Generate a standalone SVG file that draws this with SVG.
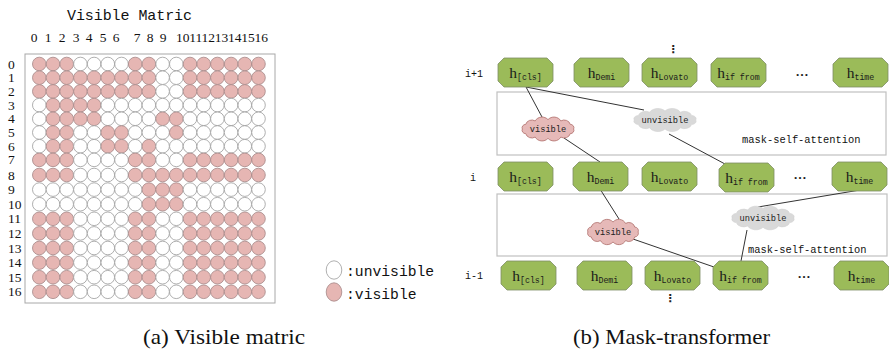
<svg xmlns="http://www.w3.org/2000/svg" xmlns:xlink="http://www.w3.org/1999/xlink" width="889" height="353" viewBox="0 0 889 353">
<style>
.v{fill:#E6B6B3;stroke:#A48686;stroke-width:0.8}
.u{fill:#fff;stroke:#9A9A9A;stroke-width:0.8}
.lab{font-family:"Liberation Serif",serif;font-size:13.5px;fill:#111}
.mono{font-family:"Liberation Mono",monospace;fill:#111}
.h{font-family:"Liberation Serif",serif;font-size:15.5px}
.s{font-family:"Liberation Mono",monospace;font-size:8.3px}
.nd{fill:#9BBB59;stroke:#7E8E66;stroke-width:0.8}
.nt{fill:#1a1a1a;text-anchor:middle}
.box{fill:none;stroke:#C0C0C0;stroke-width:1.2}
.cv{fill:#E6B9B8;stroke:#B0706C;stroke-width:0.9}
.cu{fill:#D9D9D9;stroke:#D0D0D0;stroke-width:0.6}
.ct{font-family:"Liberation Mono",monospace;font-size:8.7px;fill:#222;text-anchor:middle}
.msa{font-family:"Liberation Mono",monospace;font-size:10.4px;fill:#111}
.con line{stroke:#333;stroke-width:1}
.cap{font-family:"Liberation Serif",serif;font-size:21px;fill:#111}
.dots{font-family:"DejaVu Sans",sans-serif;font-size:11px;fill:#222;text-anchor:middle;font-weight:bold}
</style>
<defs>
<path id="nd" d="M6,0 H49 L55,6 V23 L49,29 H6 L0,23 V6 Z"/>
<path id="cloud" d="M27,0 A4,4 0 0 1 23.4,5.5 A6.5,6.5 0 0 1 13.5,9.5 A8,8 0 0 1 0,11 A8,8 0 0 1 -13.5,9.5 A6.5,6.5 0 0 1 -23.4,5.5 A4,4 0 0 1 -27,0 A4,4 0 0 1 -23.4,-5.5 A6.5,6.5 0 0 1 -13.5,-9.5 A8,8 0 0 1 0,-11 A8,8 0 0 1 13.5,-9.5 A6.5,6.5 0 0 1 23.4,-5.5 A4,4 0 0 1 27,0 Z"/>
</defs>
<rect width="889" height="353" fill="#fff"/>

<!-- Left: visible matrix -->
<g id="matrix">
<text class="mono" x="67" y="20" font-size="15" textLength="125">Visible Matric</text>
<g class="lab" text-anchor="middle">
<text x="34" y="42">0</text><text x="48" y="42">1</text><text x="62" y="42">2</text><text x="76" y="42">3</text><text x="89" y="42">4</text><text x="103" y="42">5</text><text x="116" y="42">6</text><text x="137" y="42">7</text><text x="150" y="42">8</text><text x="163" y="42">9</text>
</g>
<text class="lab" x="176" y="42" textLength="92">10111213141516</text>
<g class="lab">
<text x="8" y="68.5">0</text><text x="8" y="82.2">1</text><text x="8" y="95.9">2</text><text x="8" y="109.6">3</text><text x="8" y="123.3">4</text><text x="8" y="137">5</text><text x="8" y="150.7">6</text><text x="8" y="164.4">7</text><text x="8" y="179.5">8</text><text x="8" y="194.1">9</text><text x="8" y="208.7">10</text><text x="8" y="223.3">11</text><text x="8" y="237.9">12</text><text x="8" y="252.5">13</text><text x="8" y="267.1">14</text><text x="8" y="281.7">15</text><text x="8" y="296.3">16</text>
</g>
<rect x="25" y="54" width="250" height="249" fill="none" stroke="#A8A8A8" stroke-width="1"/>
<g id="row0" transform="translate(0,64)"><circle r="6.8" cx="39.3" class="v"/><circle r="6.8" cx="53" class="v"/><circle r="6.8" cx="66.7" class="v"/><circle r="6.8" cx="80.4" class="u"/><circle r="6.8" cx="94.1" class="u"/><circle r="6.8" cx="107.8" class="u"/><circle r="6.8" cx="121.5" class="u"/><circle r="6.8" cx="135.2" class="v"/><circle r="6.8" cx="148.9" class="v"/><circle r="6.8" cx="162.6" class="u"/><circle r="6.8" cx="176.3" class="u"/><circle r="6.8" cx="190" class="v"/><circle r="6.8" cx="203.7" class="v"/><circle r="6.8" cx="217.4" class="v"/><circle r="6.8" cx="231.1" class="v"/><circle r="6.8" cx="244.8" class="v"/><circle r="6.8" cx="258.5" class="v"/></g>
<g id="row1" transform="translate(0,77.7)"><circle r="6.8" cx="39.3" class="v"/><circle r="6.8" cx="53" class="v"/><circle r="6.8" cx="66.7" class="v"/><circle r="6.8" cx="80.4" class="v"/><circle r="6.8" cx="94.1" class="v"/><circle r="6.8" cx="107.8" class="v"/><circle r="6.8" cx="121.5" class="v"/><circle r="6.8" cx="135.2" class="v"/><circle r="6.8" cx="148.9" class="v"/><circle r="6.8" cx="162.6" class="u"/><circle r="6.8" cx="176.3" class="u"/><circle r="6.8" cx="190" class="v"/><circle r="6.8" cx="203.7" class="v"/><circle r="6.8" cx="217.4" class="v"/><circle r="6.8" cx="231.1" class="v"/><circle r="6.8" cx="244.8" class="v"/><circle r="6.8" cx="258.5" class="v"/></g>
<g id="row2" transform="translate(0,91.4)"><circle r="6.8" cx="39.3" class="v"/><circle r="6.8" cx="53" class="v"/><circle r="6.8" cx="66.7" class="v"/><circle r="6.8" cx="80.4" class="v"/><circle r="6.8" cx="94.1" class="v"/><circle r="6.8" cx="107.8" class="v"/><circle r="6.8" cx="121.5" class="v"/><circle r="6.8" cx="135.2" class="v"/><circle r="6.8" cx="148.9" class="v"/><circle r="6.8" cx="162.6" class="u"/><circle r="6.8" cx="176.3" class="u"/><circle r="6.8" cx="190" class="v"/><circle r="6.8" cx="203.7" class="v"/><circle r="6.8" cx="217.4" class="v"/><circle r="6.8" cx="231.1" class="v"/><circle r="6.8" cx="244.8" class="v"/><circle r="6.8" cx="258.5" class="v"/></g>
<g id="row3" transform="translate(0,105.1)"><circle r="6.8" cx="39.3" class="u"/><circle r="6.8" cx="53" class="v"/><circle r="6.8" cx="66.7" class="v"/><circle r="6.8" cx="80.4" class="v"/><circle r="6.8" cx="94.1" class="v"/><circle r="6.8" cx="107.8" class="u"/><circle r="6.8" cx="121.5" class="u"/><circle r="6.8" cx="135.2" class="u"/><circle r="6.8" cx="148.9" class="u"/><circle r="6.8" cx="162.6" class="u"/><circle r="6.8" cx="176.3" class="u"/><circle r="6.8" cx="190" class="u"/><circle r="6.8" cx="203.7" class="u"/><circle r="6.8" cx="217.4" class="u"/><circle r="6.8" cx="231.1" class="u"/><circle r="6.8" cx="244.8" class="u"/><circle r="6.8" cx="258.5" class="u"/></g>
<g id="row4" transform="translate(0,118.8)"><circle r="6.8" cx="39.3" class="u"/><circle r="6.8" cx="53" class="v"/><circle r="6.8" cx="66.7" class="v"/><circle r="6.8" cx="80.4" class="v"/><circle r="6.8" cx="94.1" class="v"/><circle r="6.8" cx="107.8" class="u"/><circle r="6.8" cx="121.5" class="u"/><circle r="6.8" cx="135.2" class="u"/><circle r="6.8" cx="148.9" class="u"/><circle r="6.8" cx="162.6" class="v"/><circle r="6.8" cx="176.3" class="v"/><circle r="6.8" cx="190" class="u"/><circle r="6.8" cx="203.7" class="u"/><circle r="6.8" cx="217.4" class="u"/><circle r="6.8" cx="231.1" class="u"/><circle r="6.8" cx="244.8" class="u"/><circle r="6.8" cx="258.5" class="u"/></g>
<g id="row5" transform="translate(0,132.5)"><circle r="6.8" cx="39.3" class="u"/><circle r="6.8" cx="53" class="v"/><circle r="6.8" cx="66.7" class="v"/><circle r="6.8" cx="80.4" class="u"/><circle r="6.8" cx="94.1" class="u"/><circle r="6.8" cx="107.8" class="v"/><circle r="6.8" cx="121.5" class="v"/><circle r="6.8" cx="135.2" class="u"/><circle r="6.8" cx="148.9" class="u"/><circle r="6.8" cx="162.6" class="u"/><circle r="6.8" cx="176.3" class="v"/><circle r="6.8" cx="190" class="u"/><circle r="6.8" cx="203.7" class="u"/><circle r="6.8" cx="217.4" class="u"/><circle r="6.8" cx="231.1" class="u"/><circle r="6.8" cx="244.8" class="u"/><circle r="6.8" cx="258.5" class="u"/></g>
<g id="row6" transform="translate(0,146.2)"><circle r="6.8" cx="39.3" class="u"/><circle r="6.8" cx="53" class="v"/><circle r="6.8" cx="66.7" class="v"/><circle r="6.8" cx="80.4" class="u"/><circle r="6.8" cx="94.1" class="u"/><circle r="6.8" cx="107.8" class="v"/><circle r="6.8" cx="121.5" class="v"/><circle r="6.8" cx="135.2" class="u"/><circle r="6.8" cx="148.9" class="v"/><circle r="6.8" cx="162.6" class="u"/><circle r="6.8" cx="176.3" class="u"/><circle r="6.8" cx="190" class="u"/><circle r="6.8" cx="203.7" class="u"/><circle r="6.8" cx="217.4" class="u"/><circle r="6.8" cx="231.1" class="u"/><circle r="6.8" cx="244.8" class="u"/><circle r="6.8" cx="258.5" class="u"/></g>
<g id="row7" transform="translate(0,159.9)"><circle r="6.8" cx="39.3" class="v"/><circle r="6.8" cx="53" class="v"/><circle r="6.8" cx="66.7" class="v"/><circle r="6.8" cx="80.4" class="u"/><circle r="6.8" cx="94.1" class="u"/><circle r="6.8" cx="107.8" class="u"/><circle r="6.8" cx="121.5" class="u"/><circle r="6.8" cx="135.2" class="v"/><circle r="6.8" cx="148.9" class="v"/><circle r="6.8" cx="162.6" class="u"/><circle r="6.8" cx="176.3" class="u"/><circle r="6.8" cx="190" class="v"/><circle r="6.8" cx="203.7" class="v"/><circle r="6.8" cx="217.4" class="v"/><circle r="6.8" cx="231.1" class="v"/><circle r="6.8" cx="244.8" class="v"/><circle r="6.8" cx="258.5" class="v"/></g>
<g id="row8" transform="translate(0,175)"><circle r="6.8" cx="39.3" class="v"/><circle r="6.8" cx="53" class="v"/><circle r="6.8" cx="66.7" class="v"/><circle r="6.8" cx="80.4" class="u"/><circle r="6.8" cx="94.1" class="u"/><circle r="6.8" cx="107.8" class="u"/><circle r="6.8" cx="121.5" class="u"/><circle r="6.8" cx="135.2" class="v"/><circle r="6.8" cx="148.9" class="v"/><circle r="6.8" cx="162.6" class="v"/><circle r="6.8" cx="176.3" class="v"/><circle r="6.8" cx="190" class="v"/><circle r="6.8" cx="203.7" class="v"/><circle r="6.8" cx="217.4" class="v"/><circle r="6.8" cx="231.1" class="v"/><circle r="6.8" cx="244.8" class="v"/><circle r="6.8" cx="258.5" class="v"/></g>
<g id="row9" transform="translate(0,189.6)"><circle r="6.8" cx="39.3" class="u"/><circle r="6.8" cx="53" class="u"/><circle r="6.8" cx="66.7" class="u"/><circle r="6.8" cx="80.4" class="u"/><circle r="6.8" cx="94.1" class="u"/><circle r="6.8" cx="107.8" class="u"/><circle r="6.8" cx="121.5" class="u"/><circle r="6.8" cx="135.2" class="u"/><circle r="6.8" cx="148.9" class="v"/><circle r="6.8" cx="162.6" class="v"/><circle r="6.8" cx="176.3" class="v"/><circle r="6.8" cx="190" class="u"/><circle r="6.8" cx="203.7" class="u"/><circle r="6.8" cx="217.4" class="u"/><circle r="6.8" cx="231.1" class="u"/><circle r="6.8" cx="244.8" class="u"/><circle r="6.8" cx="258.5" class="u"/></g>
<g id="row10" transform="translate(0,204.2)"><circle r="6.8" cx="39.3" class="u"/><circle r="6.8" cx="53" class="u"/><circle r="6.8" cx="66.7" class="u"/><circle r="6.8" cx="80.4" class="u"/><circle r="6.8" cx="94.1" class="u"/><circle r="6.8" cx="107.8" class="u"/><circle r="6.8" cx="121.5" class="u"/><circle r="6.8" cx="135.2" class="u"/><circle r="6.8" cx="148.9" class="v"/><circle r="6.8" cx="162.6" class="v"/><circle r="6.8" cx="176.3" class="v"/><circle r="6.8" cx="190" class="u"/><circle r="6.8" cx="203.7" class="u"/><circle r="6.8" cx="217.4" class="u"/><circle r="6.8" cx="231.1" class="u"/><circle r="6.8" cx="244.8" class="u"/><circle r="6.8" cx="258.5" class="u"/></g>
<g id="row11" transform="translate(0,218.8)"><circle r="6.8" cx="39.3" class="v"/><circle r="6.8" cx="53" class="v"/><circle r="6.8" cx="66.7" class="v"/><circle r="6.8" cx="80.4" class="u"/><circle r="6.8" cx="94.1" class="u"/><circle r="6.8" cx="107.8" class="u"/><circle r="6.8" cx="121.5" class="u"/><circle r="6.8" cx="135.2" class="v"/><circle r="6.8" cx="148.9" class="v"/><circle r="6.8" cx="162.6" class="u"/><circle r="6.8" cx="176.3" class="u"/><circle r="6.8" cx="190" class="v"/><circle r="6.8" cx="203.7" class="v"/><circle r="6.8" cx="217.4" class="v"/><circle r="6.8" cx="231.1" class="v"/><circle r="6.8" cx="244.8" class="v"/><circle r="6.8" cx="258.5" class="v"/></g>
<g id="row12" transform="translate(0,233.4)"><circle r="6.8" cx="39.3" class="v"/><circle r="6.8" cx="53" class="v"/><circle r="6.8" cx="66.7" class="v"/><circle r="6.8" cx="80.4" class="u"/><circle r="6.8" cx="94.1" class="u"/><circle r="6.8" cx="107.8" class="u"/><circle r="6.8" cx="121.5" class="u"/><circle r="6.8" cx="135.2" class="v"/><circle r="6.8" cx="148.9" class="v"/><circle r="6.8" cx="162.6" class="u"/><circle r="6.8" cx="176.3" class="u"/><circle r="6.8" cx="190" class="v"/><circle r="6.8" cx="203.7" class="v"/><circle r="6.8" cx="217.4" class="v"/><circle r="6.8" cx="231.1" class="v"/><circle r="6.8" cx="244.8" class="v"/><circle r="6.8" cx="258.5" class="v"/></g>
<g id="row13" transform="translate(0,248)"><circle r="6.8" cx="39.3" class="v"/><circle r="6.8" cx="53" class="v"/><circle r="6.8" cx="66.7" class="v"/><circle r="6.8" cx="80.4" class="u"/><circle r="6.8" cx="94.1" class="u"/><circle r="6.8" cx="107.8" class="u"/><circle r="6.8" cx="121.5" class="u"/><circle r="6.8" cx="135.2" class="v"/><circle r="6.8" cx="148.9" class="v"/><circle r="6.8" cx="162.6" class="u"/><circle r="6.8" cx="176.3" class="u"/><circle r="6.8" cx="190" class="v"/><circle r="6.8" cx="203.7" class="v"/><circle r="6.8" cx="217.4" class="v"/><circle r="6.8" cx="231.1" class="v"/><circle r="6.8" cx="244.8" class="v"/><circle r="6.8" cx="258.5" class="v"/></g>
<g id="row14" transform="translate(0,262.6)"><circle r="6.8" cx="39.3" class="v"/><circle r="6.8" cx="53" class="v"/><circle r="6.8" cx="66.7" class="v"/><circle r="6.8" cx="80.4" class="u"/><circle r="6.8" cx="94.1" class="u"/><circle r="6.8" cx="107.8" class="u"/><circle r="6.8" cx="121.5" class="u"/><circle r="6.8" cx="135.2" class="v"/><circle r="6.8" cx="148.9" class="v"/><circle r="6.8" cx="162.6" class="u"/><circle r="6.8" cx="176.3" class="u"/><circle r="6.8" cx="190" class="v"/><circle r="6.8" cx="203.7" class="v"/><circle r="6.8" cx="217.4" class="v"/><circle r="6.8" cx="231.1" class="v"/><circle r="6.8" cx="244.8" class="v"/><circle r="6.8" cx="258.5" class="v"/></g>
<g id="row15" transform="translate(0,277.2)"><circle r="6.8" cx="39.3" class="v"/><circle r="6.8" cx="53" class="v"/><circle r="6.8" cx="66.7" class="v"/><circle r="6.8" cx="80.4" class="u"/><circle r="6.8" cx="94.1" class="u"/><circle r="6.8" cx="107.8" class="u"/><circle r="6.8" cx="121.5" class="u"/><circle r="6.8" cx="135.2" class="v"/><circle r="6.8" cx="148.9" class="v"/><circle r="6.8" cx="162.6" class="u"/><circle r="6.8" cx="176.3" class="u"/><circle r="6.8" cx="190" class="v"/><circle r="6.8" cx="203.7" class="v"/><circle r="6.8" cx="217.4" class="v"/><circle r="6.8" cx="231.1" class="v"/><circle r="6.8" cx="244.8" class="v"/><circle r="6.8" cx="258.5" class="v"/></g>
<g id="row16" transform="translate(0,291.8)"><circle r="6.8" cx="39.3" class="v"/><circle r="6.8" cx="53" class="v"/><circle r="6.8" cx="66.7" class="v"/><circle r="6.8" cx="80.4" class="u"/><circle r="6.8" cx="94.1" class="u"/><circle r="6.8" cx="107.8" class="u"/><circle r="6.8" cx="121.5" class="u"/><circle r="6.8" cx="135.2" class="v"/><circle r="6.8" cx="148.9" class="v"/><circle r="6.8" cx="162.6" class="u"/><circle r="6.8" cx="176.3" class="u"/><circle r="6.8" cx="190" class="v"/><circle r="6.8" cx="203.7" class="v"/><circle r="6.8" cx="217.4" class="v"/><circle r="6.8" cx="231.1" class="v"/><circle r="6.8" cx="244.8" class="v"/><circle r="6.8" cx="258.5" class="v"/></g>
</g>

<g id="legend">
<ellipse cx="334" cy="270" rx="7.8" ry="9.2" class="u"/>
<text class="mono" x="346" y="276" font-size="14.7">:unvisible</text>
<ellipse cx="334" cy="292" rx="7.8" ry="9.2" class="v"/>
<text class="mono" x="346" y="299" font-size="14.7">:visible</text>
</g>

<!-- Right: mask transformer -->
<g id="layer-labels" class="mono" font-size="10">
<text x="465" y="77">i+1</text>
<text x="470" y="181">i</text>
<text x="465" y="279">i-1</text>
</g>
<text class="dots" x="673" y="53">⋮</text>
<text class="dots" x="670" y="302">⋮</text>

<g id="box-top"><rect class="box" x="497" y="92" width="389" height="63"/><text class="msa" x="742" y="142.5">mask-self-attention</text></g>
<g id="box-bottom"><rect class="box" x="497" y="194" width="390" height="62"/><text class="msa" x="748" y="253">mask-self-attention</text></g>

<g id="connectors" class="con">
<line x1="526" y1="87" x2="542" y2="117"/>
<line x1="526" y1="87" x2="644" y2="110"/>
<line x1="564" y1="138" x2="600" y2="162"/>
<line x1="669" y1="134" x2="725" y2="164"/>
<line x1="600" y1="189" x2="619" y2="219"/>
<line x1="633" y1="239" x2="714" y2="267"/>
<line x1="860" y1="190" x2="758" y2="207"/>
<line x1="747" y1="230" x2="741" y2="261"/>
</g>

<g id="cloud-vis-top"><use xlink:href="#cloud" class="cv" transform="translate(548,129) scale(0.95,0.85)"/><text class="ct" x="548" y="132">visible</text></g>
<g id="cloud-unvis-top"><use xlink:href="#cloud" class="cu" transform="translate(665,120) scale(1.14,0.82)"/><text class="ct" x="665" y="123">unvisible</text></g>
<g id="cloud-vis-bot"><use xlink:href="#cloud" class="cv" transform="translate(613,232) scale(0.93,0.9)"/><text class="ct" x="613" y="235">visible</text></g>
<g id="cloud-unvis-bot"><use xlink:href="#cloud" class="cu" transform="translate(763,218) scale(1.14,0.84)"/><text class="ct" x="763" y="221">unvisible</text></g>

<!-- layer i+1 -->
<g id="n-ip1-cls" transform="translate(498,58)"><use xlink:href="#nd" class="nd"/><text class="nt" x="27.5" y="20"><tspan class="h">h</tspan><tspan class="s" dy="1.5">[cls]</tspan></text></g>
<g id="n-ip1-demi" transform="translate(574,58)"><use xlink:href="#nd" class="nd"/><text class="nt" x="27.5" y="20"><tspan class="h">h</tspan><tspan class="s" dy="1.5">Demi</tspan></text></g>
<g id="n-ip1-lovato" transform="translate(642,58)"><use xlink:href="#nd" class="nd"/><text class="nt" x="27.5" y="20"><tspan class="h">h</tspan><tspan class="s" dy="1.5">Lovato</tspan></text></g>
<g id="n-ip1-iffrom" transform="translate(711,58)"><use xlink:href="#nd" class="nd"/><text class="nt" x="27.5" y="20"><tspan class="h">h</tspan><tspan class="s" dy="1.5">if from</tspan></text></g>
<text x="802" y="76" class="nt" font-family="Liberation Serif,serif" font-size="13" font-weight="bold">…</text>
<g id="n-ip1-time" transform="translate(833,58)"><use xlink:href="#nd" class="nd"/><text class="nt" x="27.5" y="20"><tspan class="h">h</tspan><tspan class="s" dy="1.5">time</tspan></text></g>

<!-- layer i -->
<g id="n-i-cls" transform="translate(498,162)"><use xlink:href="#nd" class="nd"/><text class="nt" x="27.5" y="20"><tspan class="h">h</tspan><tspan class="s" dy="1.5">[cls]</tspan></text></g>
<g id="n-i-demi" transform="translate(573,162)"><use xlink:href="#nd" class="nd"/><text class="nt" x="27.5" y="20"><tspan class="h">h</tspan><tspan class="s" dy="1.5">Demi</tspan></text></g>
<g id="n-i-lovato" transform="translate(642,162)"><use xlink:href="#nd" class="nd"/><text class="nt" x="27.5" y="20"><tspan class="h">h</tspan><tspan class="s" dy="1.5">Lovato</tspan></text></g>
<g id="n-i-iffrom" transform="translate(719,163)"><use xlink:href="#nd" class="nd"/><text class="nt" x="27.5" y="20"><tspan class="h">h</tspan><tspan class="s" dy="1.5">if from</tspan></text></g>
<text x="800" y="179" class="nt" font-family="Liberation Serif,serif" font-size="13" font-weight="bold">…</text>
<g id="n-i-time" transform="translate(832,162)"><use xlink:href="#nd" class="nd"/><text class="nt" x="27.5" y="20"><tspan class="h">h</tspan><tspan class="s" dy="1.5">time</tspan></text></g>

<!-- layer i-1 -->
<g id="n-im1-cls" transform="translate(501,261)"><use xlink:href="#nd" class="nd"/><text class="nt" x="27.5" y="20"><tspan class="h">h</tspan><tspan class="s" dy="1.5">[cls]</tspan></text></g>
<g id="n-im1-demi" transform="translate(577,261)"><use xlink:href="#nd" class="nd"/><text class="nt" x="27.5" y="20"><tspan class="h">h</tspan><tspan class="s" dy="1.5">Demi</tspan></text></g>
<g id="n-im1-lovato" transform="translate(645,261)"><use xlink:href="#nd" class="nd"/><text class="nt" x="27.5" y="20"><tspan class="h">h</tspan><tspan class="s" dy="1.5">Lovato</tspan></text></g>
<g id="n-im1-iffrom" transform="translate(713,261)"><use xlink:href="#nd" class="nd"/><text class="nt" x="27.5" y="20"><tspan class="h">h</tspan><tspan class="s" dy="1.5">if from</tspan></text></g>
<text x="804" y="278" class="nt" font-family="Liberation Serif,serif" font-size="13" font-weight="bold">…</text>
<g id="n-im1-time" transform="translate(834,261)"><use xlink:href="#nd" class="nd"/><text class="nt" x="27.5" y="20"><tspan class="h">h</tspan><tspan class="s" dy="1.5">time</tspan></text></g>

<text class="cap" x="143" y="344" textLength="162" lengthAdjust="spacingAndGlyphs">(a) Visible matric</text>
<text class="cap" x="573" y="344" textLength="197" lengthAdjust="spacingAndGlyphs">(b) Mask-transformer</text>
</svg>
